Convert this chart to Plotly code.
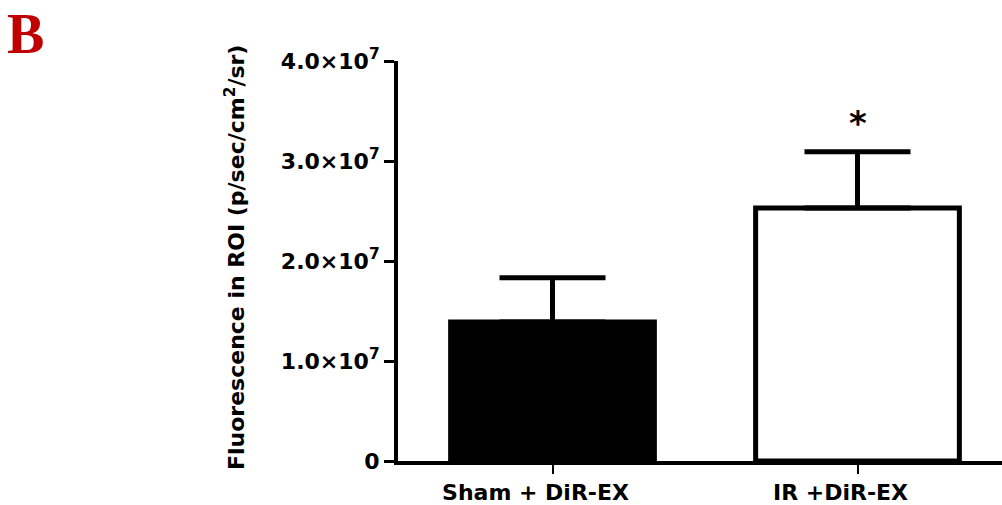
import plotly.graph_objects as go

# ---- data ----
categories = ["Sham + DiR-EX", "IR +DiR-EX"]
means = [1.39e7, 2.53e7]
sem = [0.443e7, 0.563e7]
y_tick_vals = [0, 1e7, 2e7, 3e7, 4e7]
y_tick_text = ["0", "1.0×10<sup>7</sup>", "2.0×10<sup>7</sup>",
               "3.0×10<sup>7</sup>", "4.0×10<sup>7</sup>"]
y_title = "Fluorescence in ROI (p/sec/cm<sup>2</sup>/sr)"
panel_label = "B"
sig_marker = "*"

W, H = 1002, 505
L, R, T, B = 398, 0, 61, 40
PW, PH = W - L - R, H - T - B


def px_x(p):
    return (p - L) / PW


def px_y(p):
    return (H - B - p) / PH


xpos = list(range(len(categories)))
FONT = "DejaVu Sans"

fig = go.Figure()
fig.add_trace(go.Bar(
    x=xpos, y=means,
    width=0.668,
    marker=dict(color=["black", "white"],
                line=dict(color="black", width=5)),
    error_y=dict(type="data", array=sem, arrayminus=[0, 0], symmetric=False,
                 color="black", thickness=5, width=53),
    showlegend=False,
))

fig.update_layout(
    width=W, height=H,
    margin=dict(l=L, r=R, t=T, b=B, pad=0),
    paper_bgcolor="white", plot_bgcolor="white",
    font=dict(family=FONT, color="black"),
    xaxis=dict(range=[-0.5066, 1.4738], tickvals=xpos, ticktext=categories,
               showgrid=False, zeroline=False, showline=True, linecolor="black",
               linewidth=4, ticks="outside", ticklen=9, tickwidth=2,
               tickcolor="black", ticklabelshift=-17,
               tickfont=dict(family=FONT, size=22, weight="bold", color="black")),
    yaxis=dict(range=[0, 4e7], tickvals=y_tick_vals, ticktext=y_tick_text,
               showgrid=False, zeroline=False, showline=True, linecolor="black",
               linewidth=4, ticks="outside", ticklen=10, tickwidth=3,
               tickcolor="black", ticklabelstandoff=0,
               tickfont=dict(family=FONT, size=22, weight="bold", color="black")),
)

fig.add_annotation(xref="paper", yref="paper", x=px_x(235), y=px_y(260),
                   text=y_title, textangle=-90, showarrow=False,
                   xanchor="center", yanchor="middle",
                   font=dict(family=FONT, size=22, weight="bold", color="black"))

fig.add_annotation(xref="x", yref="paper", x=1, y=px_y(116),
                   text=sig_marker, showarrow=False,
                   xanchor="center", yanchor="middle", yshift=-8,
                   font=dict(family=FONT, size=34, weight="bold", color="black"))

fig.add_annotation(xref="paper", yref="paper", x=px_x(5), y=px_y(0),
                   text=panel_label, showarrow=False,
                   xanchor="left", yanchor="top",
                   font=dict(family="Liberation Serif", size=56, weight="bold",
                             color="#C00000"))

fig.write_html("out.html")
